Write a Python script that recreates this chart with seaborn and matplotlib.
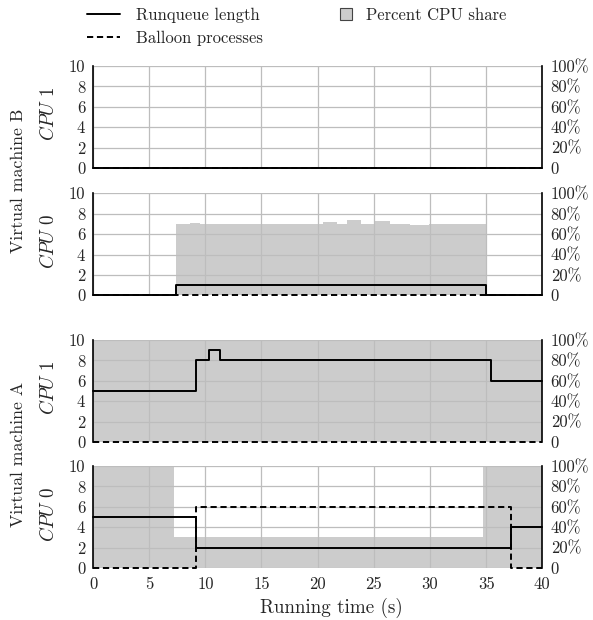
import numpy as np
import pandas as pd
import matplotlib
matplotlib.use("Agg")
import matplotlib.pyplot as plt
import seaborn as sns
from matplotlib.lines import Line2D

# ---------------- data ----------------
# Virtual machine B, CPU 1
b1_rq_t = [0, 40]
b1_rq_v = [0]
b1_bal_t = [0, 40]
b1_bal_v = [0]
b1_share_t = [0, 40]
b1_share_v = [0]

# Virtual machine B, CPU 0
b0_rq_t = [0, 7.4, 35.0, 40]
b0_rq_v = [0, 1, 0]
b0_bal_t = [0, 40]
b0_bal_v = [0]
b0_share_t = [0, 7.4, 8.6, 9.5, 20.5, 21.7, 22.6, 23.9, 25.0, 26.4, 28.2, 29.9, 35.0, 40]
b0_share_v = [0, 70, 71, 70, 71.5, 70, 73.4, 70, 73, 70, 69, 70, 0]

# Virtual machine A, CPU 1
a1_rq_t = [0, 9.2, 10.3, 11.3, 35.4, 40]
a1_rq_v = [5, 8, 9, 8, 6]
a1_bal_t = [0, 40]
a1_bal_v = [0]
a1_share_t = [0, 40]
a1_share_v = [100]

# Virtual machine A, CPU 0
a0_rq_t = [0, 9.15, 37.2, 40]
a0_rq_v = [5, 2, 4]
a0_bal_t = [0, 9.15, 37.2, 40]
a0_bal_v = [0, 6, 0]
a0_share_t = [0, 7.2, 34.7, 40]
a0_share_v = [100, 30, 100]

panels = [
    ("CPU 1", b1_rq_t, b1_rq_v, b1_bal_t, b1_bal_v, b1_share_t, b1_share_v),
    ("CPU 0", b0_rq_t, b0_rq_v, b0_bal_t, b0_bal_v, b0_share_t, b0_share_v),
    ("CPU 1", a1_rq_t, a1_rq_v, a1_bal_t, a1_bal_v, a1_share_t, a1_share_v),
    ("CPU 0", a0_rq_t, a0_rq_v, a0_bal_t, a0_bal_v, a0_share_t, a0_share_v),
]
groups = ["Virtual machine B", "Virtual machine A"]
x_ticks = [0, 5, 10, 15, 20, 25, 30, 35, 40]
y_ticks = [0, 2, 4, 6, 8, 10]
pct_labels = ["0", "20%", "40%", "60%", "80%", "100%"]

# ---------------- style ----------------
sns.set_style("white")
plt.rcParams["font.family"] = ["cmr10", "DejaVu Serif"]
plt.rcParams["mathtext.fontset"] = "cm"
plt.rcParams["axes.formatter.use_mathtext"] = True
plt.rcParams["axes.unicode_minus"] = False
FS = 12
DASH = (0, (3.2, 1.9))

W, H = 593, 620
fig = plt.figure(figsize=(W / 100, H / 100), dpi=100)

tops = [66, 193.3, 340, 466]
ph = 102
left, right = 93, 542.3

share_color = "#cccccc"
grid_color = "#bdbdbd"


def step_xy(t, v):
    return list(t), list(v) + [v[-1]]


for i, (cpu, rt, rv, bt, bv, st, sv) in enumerate(panels):
    ax = fig.add_axes([left / W, 1 - (tops[i] + ph) / H, (right - left) / W, ph / H])
    sx, sy = step_xy(st, sv)
    ax.fill_between(sx, np.array(sy) / 10.0, step="post", color=share_color, lw=0, zorder=1)

    bx, by = step_xy(bt, bv)
    sns.lineplot(x=bx, y=by, ax=ax, estimator=None, sort=False, color="black",
                 lw=1.4, drawstyle="steps-post", clip_on=False, zorder=3)
    ax.lines[-1].set_linestyle(DASH)
    rx, ry = step_xy(rt, rv)
    sns.lineplot(x=rx, y=ry, ax=ax, estimator=None, sort=False, color="black",
                 lw=1.4, drawstyle="steps-post", clip_on=False, zorder=4)

    ax.set_xlim(0, 40)
    ax.set_ylim(0, 10)
    ax.set_xticks(x_ticks)
    ax.set_yticks(y_ticks)
    ax.set_yticklabels([str(t) for t in y_ticks], fontsize=FS)
    ax.grid(True, color=grid_color, lw=0.9)
    ax.set_axisbelow("line")
    for s in ["top", "bottom"]:
        ax.spines[s].set_visible(False)
    for s in ["left", "right"]:
        ax.spines[s].set_visible(True)
        ax.spines[s].set_color("black")
        ax.spines[s].set_linewidth(1.2)
        ax.spines[s].set_zorder(5)
    ax.tick_params(length=0, pad=5.5, labelsize=FS)
    ax.set_ylabel("")
    if i < 3:
        ax.set_xticklabels([])
        ax.set_xlabel("")
    else:
        ax.set_xticklabels([str(t) for t in x_ticks], fontsize=FS)
        ax.tick_params(axis="x", pad=6)
        ax.set_xlabel("Running time (s)", fontsize=13.7)
        ax.xaxis.set_label_coords(0.53, -0.29)
    sec = ax.secondary_yaxis("right", functions=(lambda y: y * 10, lambda y: y / 10))
    sec.set_yticks([0, 20, 40, 60, 80, 100])
    sec.set_yticklabels(pct_labels, fontsize=FS)
    sec.tick_params(length=0, pad=6)
    sec.spines["right"].set_visible(False)

    yc = 1 - (tops[i] + ph / 2 - 3) / H
    fig.text(48 / W, yc, r"$\mathit{" + cpu.replace(" ", r"\ ") + "}$", rotation=90,
             ha="center", va="center", fontsize=13.7)

# group labels
for g, (a, b) in zip(groups, [(0, 1), (2, 3)]):
    yc = 1 - ((tops[a] + tops[b] + ph) / 2) / H
    fig.text(18.5 / W, yc, g, rotation=90, ha="center", va="center", fontsize=12.8)

# legends
line_handles = [
    Line2D([0], [0], color="black", lw=1.4),
    Line2D([0], [0], color="black", lw=1.4, linestyle=DASH),
]
fig.legend(line_handles, ["Runqueue length", "Balloon processes"],
           loc="upper left", bbox_to_anchor=(87 / W, 1 - 8 / H),
           frameon=False, fontsize=FS, handlelength=2.0, borderpad=0,
           borderaxespad=0, labelspacing=0.42, handletextpad=0.95)
sq = Line2D([0], [0], marker="s", markersize=9.3, markerfacecolor=share_color,
            markeredgecolor="#444444", markeredgewidth=0.8, linestyle="none")
fig.legend([sq], ["Percent CPU share"], loc="upper left",
           bbox_to_anchor=(339 / W, 1 - 8 / H), frameon=False, fontsize=FS,
           handlelength=0.8, borderpad=0, borderaxespad=0, handletextpad=0.8)

fig.savefig("out.png", dpi=100)
